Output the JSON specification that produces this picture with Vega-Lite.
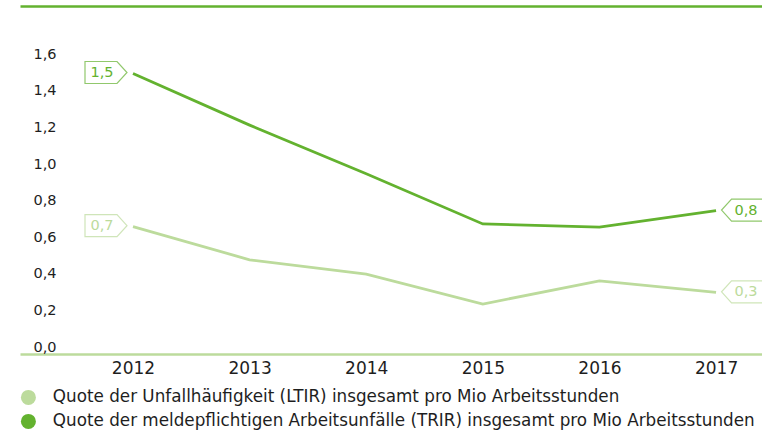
{
  "$schema": "https://vega.github.io/schema/vega-lite/v6.json",
  "width": 742,
  "height": 348,
  "autosize": {"type": "none"},
  "padding": {"left": 20, "top": 6, "right": 0, "bottom": 76},
  "background": "white",
  "view": {"stroke": null},
  "config": {"font": "DejaVu Sans"},
  "data": {
    "values": [
      {"year": 2012, "series": "Quote der Unfallhäufigkeit (LTIR) insgesamt pro Mio Arbeitsstunden", "value": 0.696},
      {"year": 2013, "series": "Quote der Unfallhäufigkeit (LTIR) insgesamt pro Mio Arbeitsstunden", "value": 0.515},
      {"year": 2014, "series": "Quote der Unfallhäufigkeit (LTIR) insgesamt pro Mio Arbeitsstunden", "value": 0.437},
      {"year": 2015, "series": "Quote der Unfallhäufigkeit (LTIR) insgesamt pro Mio Arbeitsstunden", "value": 0.273},
      {"year": 2016, "series": "Quote der Unfallhäufigkeit (LTIR) insgesamt pro Mio Arbeitsstunden", "value": 0.400},
      {"year": 2017, "series": "Quote der Unfallhäufigkeit (LTIR) insgesamt pro Mio Arbeitsstunden", "value": 0.337},
      {"year": 2012, "series": "Quote der meldepflichtigen Arbeitsunfälle (TRIR) insgesamt pro Mio Arbeitsstunden", "value": 1.533},
      {"year": 2013, "series": "Quote der meldepflichtigen Arbeitsunfälle (TRIR) insgesamt pro Mio Arbeitsstunden", "value": 1.251},
      {"year": 2014, "series": "Quote der meldepflichtigen Arbeitsunfälle (TRIR) insgesamt pro Mio Arbeitsstunden", "value": 0.985},
      {"year": 2015, "series": "Quote der meldepflichtigen Arbeitsunfälle (TRIR) insgesamt pro Mio Arbeitsstunden", "value": 0.711},
      {"year": 2016, "series": "Quote der meldepflichtigen Arbeitsunfälle (TRIR) insgesamt pro Mio Arbeitsstunden", "value": 0.693},
      {"year": 2017, "series": "Quote der meldepflichtigen Arbeitsunfälle (TRIR) insgesamt pro Mio Arbeitsstunden", "value": 0.784}
    ]
  },
  "resolve": {"axis": {"x": "independent"}},
  "layer": [
    {
      "mark": {"type": "line", "strokeWidth": 2.8},
      "encoding": {
        "x": {
          "field": "year", "type": "quantitative",
          "scale": {"domain": [2011.031, 2017.394], "nice": false, "zero": false},
          "axis": {
            "values": [2012, 2013, 2014, 2015, 2016, 2017], "format": "d", "title": null,
            "grid": false, "ticks": false, "domainColor": "#bcdb9c", "domainWidth": 2.5,
            "labelFontSize": 17, "labelColor": "#1e1e1e", "labelPadding": 6, "labelFlush": false
          }
        },
        "y": {
          "field": "value", "type": "quantitative",
          "scale": {"domain": [0, 1.902], "nice": false},
          "axis": {
            "values": [0, 0.2, 0.4, 0.6, 0.8, 1.0, 1.2, 1.4, 1.6],
            "labelExpr": "replace(format(datum.value, '.1f'), '.', ',')",
            "title": null, "grid": false, "ticks": false, "domain": false,
            "labelAlign": "left", "labelPadding": -13, "labelBaseline": "alphabetic", "labelOffset": -3,
            "labelFontSize": 14.5, "labelColor": "#1e1e1e"
          }
        },
        "color": {
          "field": "series", "type": "nominal",
          "scale": {
            "domain": ["Quote der Unfallhäufigkeit (LTIR) insgesamt pro Mio Arbeitsstunden", "Quote der meldepflichtigen Arbeitsunfälle (TRIR) insgesamt pro Mio Arbeitsstunden"],
            "range": ["#bcdb9c", "#63b22f"]
          },
          "legend": {
            "title": null, "orient": "none", "legendX": 0, "legendY": 383,
            "symbolType": "circle", "symbolSize": 225, "symbolStrokeWidth": 0,
            "labelFontSize": 16.8, "labelColor": "#1e1e1e", "labelLimit": 900,
            "labelOffset": 16, "rowPadding": 6, "padding": 0
          }
        }
      }
    },
    {
      "transform": [{"filter": "datum.year == 2012"}],
      "mark": {"type": "point", "filled": false, "fill": "white", "size": 1764, "strokeWidth": 1.2, "xOffset": -27, "yOffset": -1,
               "shape": "M-1,-0.524L0.524,-0.524L1,0L0.524,0.524L-1,0.524Z"},
      "encoding": {
        "x": {"field": "year", "type": "quantitative", "axis": {"orient": "top", "labels": false, "ticks": false, "grid": false, "title": null, "domainColor": "#63b22f", "domainWidth": 2.5}},
        "y": {"field": "value", "type": "quantitative"},
        "stroke": {"field": "series", "type": "nominal",
          "scale": {
            "domain": ["Quote der Unfallhäufigkeit (LTIR) insgesamt pro Mio Arbeitsstunden", "Quote der meldepflichtigen Arbeitsunfälle (TRIR) insgesamt pro Mio Arbeitsstunden"],
            "range": ["#bcdb9c", "#63b22f"]
          }, "legend": null}
      }
    },
    {
      "transform": [{"filter": "datum.year == 2017"}],
      "mark": {"type": "point", "filled": false, "fill": "white", "size": 1764, "strokeWidth": 1.2, "xOffset": 26.5, "yOffset": -0.5,
               "shape": "M1,-0.524L-0.524,-0.524L-1,0L-0.524,0.524L1,0.524Z"},
      "encoding": {
        "x": {"field": "year", "type": "quantitative", "axis": null},
        "y": {"field": "value", "type": "quantitative"},
        "stroke": {"field": "series", "type": "nominal", "legend": null}
      }
    },
    {
      "transform": [
        {"filter": "datum.year == 2012"},
        {"calculate": "replace(format(datum.value, '.1f'), '.', ',')", "as": "label"}
      ],
      "mark": {"type": "text", "fontSize": 14.5, "xOffset": -31, "yOffset": -0.5, "baseline": "middle", "align": "center"},
      "encoding": {
        "x": {"field": "year", "type": "quantitative", "axis": null},
        "y": {"field": "value", "type": "quantitative"},
        "text": {"field": "label"},
        "color": {"field": "series", "type": "nominal"}
      }
    },
    {
      "transform": [
        {"filter": "datum.year == 2017"},
        {"calculate": "replace(format(datum.value, '.1f'), '.', ',')", "as": "label"}
      ],
      "mark": {"type": "text", "fontSize": 14.5, "xOffset": 30, "yOffset": 0, "baseline": "middle", "align": "center"},
      "encoding": {
        "x": {"field": "year", "type": "quantitative", "axis": null},
        "y": {"field": "value", "type": "quantitative"},
        "text": {"field": "label"},
        "color": {"field": "series", "type": "nominal"}
      }
    }
  ]
}
